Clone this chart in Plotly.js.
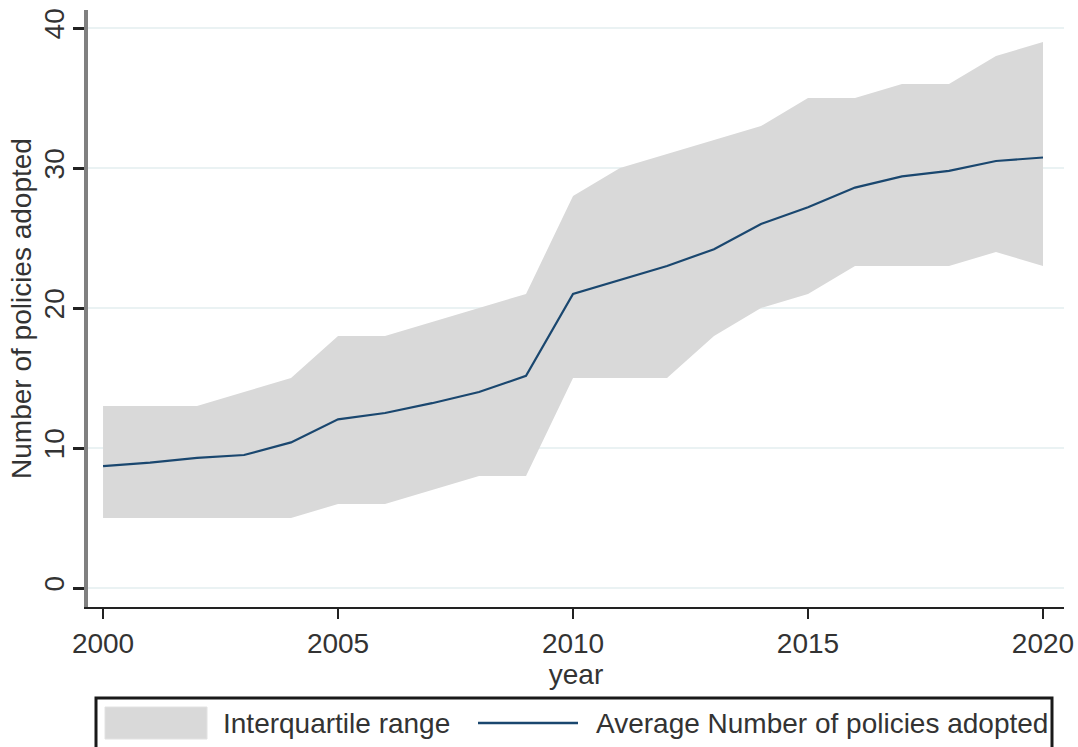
<!DOCTYPE html>
<html>
<head>
<meta charset="utf-8">
<script src="https://cdn.plot.ly/plotly-3.0.1.min.js"></script>
<style>
  html, body { margin: 0; padding: 0; background: #ffffff; }
  #chart { width: 1078px; height: 747px; }
</style>
</head>
<body>
<div id="chart"></div>
<script>
// ---- data ----
const years = [2000, 2001, 2002, 2003, 2004, 2005, 2006, 2007, 2008, 2009, 2010,
               2011, 2012, 2013, 2014, 2015, 2016, 2017, 2018, 2019, 2020];
const avgPolicies = [8.7, 8.95, 9.3, 9.5, 10.4, 12.05, 12.5, 13.2, 14.0, 15.15, 21.0,
                     22.0, 23.0, 24.2, 26.0, 27.2, 28.6, 29.4, 29.8, 30.5, 30.75];
const p25 = [5, 5, 5, 5, 5, 6, 6, 7, 8, 8, 15, 15, 15, 18, 20, 21, 23, 23, 23, 24, 23];
const p75 = [13, 13, 13, 14, 15, 18, 18, 19, 20, 21, 28, 30, 31, 32, 33, 35, 35, 36, 36, 38, 39];
const xTicks = [2000, 2005, 2010, 2015, 2020];
const yTicks = [0, 10, 20, 30, 40];
const legendLabels = ["Interquartile range", "Average Number of policies adopted"];
const xTitle = "year";
const yTitle = "Number of policies adopted";

// ---- styling ----
const FONT = '"Liberation Sans", Arial, Helvetica, sans-serif';
const TEXT = '#333333';
const BAND = '#d9d9d9';
const NAVY = '#1a476f';
const FS = 28;

const W = 1078, H = 747;
const M = {l: 88, r: 14, t: 10, b: 140};
const PW = W - M.l - M.r, PH = H - M.t - M.b;
const px = v => (v - M.l) / PW;          // pixel x -> paper x
const py = v => 1 - (v - M.t) / PH;      // pixel y -> paper y

const traces = [
  {x: years, y: p25, type: 'scatter', mode: 'lines', line: {width: 0, color: BAND},
   hoverinfo: 'skip', showlegend: false},
  {x: years, y: p75, type: 'scatter', mode: 'lines', line: {width: 0, color: BAND},
   fill: 'tonexty', fillcolor: BAND, name: legendLabels[0], showlegend: false},
  {x: years, y: avgPolicies, type: 'scatter', mode: 'lines',
   line: {width: 2.2, color: NAVY}, name: legendLabels[1], showlegend: false}
];

const layout = {
  width: W, height: H,
  margin: M,
  paper_bgcolor: '#ffffff', plot_bgcolor: '#ffffff',
  font: {family: FONT, size: FS, color: TEXT},
  showlegend: false,
  xaxis: {
    range: [1999.68, 2020.447], tickvals: xTicks, ticktext: xTicks.map(String),
    ticks: 'outside', ticklen: 10, tickwidth: 2, tickcolor: '#222',
    showline: true, linecolor: '#222', linewidth: 2,
    showgrid: false, zeroline: false,
    tickfont: {size: FS, color: TEXT, family: FONT},
    title: {text: xTitle, font: {size: FS, color: TEXT, family: FONT}, standoff: 6}
  },
  yaxis: {
    range: [-1.357, 41.286], tickvals: yTicks, ticktext: yTicks.map(String),
    tickangle: -90,
    ticks: 'outside', ticklen: 11, tickwidth: 3, tickcolor: '#222',
    ticklabelstandoff: -2,
    showline: true, linecolor: '#808080', linewidth: 4,
    showgrid: true, gridcolor: '#eaf2f3', gridwidth: 2,
    zeroline: false,
    tickfont: {size: FS, color: TEXT, family: FONT},
    title: {text: yTitle, font: {size: FS, color: TEXT, family: FONT}, standoff: 0}
  },
  shapes: [
    // legend frame
    {type: 'rect', xref: 'paper', yref: 'paper', x0: px(96), x1: px(1052), y0: py(765), y1: py(698),
     line: {color: '#1a1a1a', width: 3}, fillcolor: 'rgba(0,0,0,0)'},
    // band swatch
    {type: 'rect', xref: 'paper', yref: 'paper', x0: px(105), x1: px(207), y0: py(739), y1: py(707),
     line: {color: '#e2e2e2', width: 1}, fillcolor: BAND},
    // line swatch
    {type: 'line', xref: 'paper', yref: 'paper', x0: px(478), x1: px(578), y0: py(723), y1: py(723),
     line: {color: NAVY, width: 2.5}}
  ],
  annotations: [
    {xref: 'paper', yref: 'paper', x: px(221), y: py(723), xanchor: 'left', yanchor: 'middle',
     text: legendLabels[0], showarrow: false, font: {size: FS, color: TEXT, family: FONT}},
    {xref: 'paper', yref: 'paper', x: px(594), y: py(723), xanchor: 'left', yanchor: 'middle',
     text: legendLabels[1], showarrow: false, font: {size: FS, color: TEXT, family: FONT}}
  ]
};

Plotly.newPlot('chart', traces, layout, {displayModeBar: false, staticPlot: true});
</script>
</body>
</html>
